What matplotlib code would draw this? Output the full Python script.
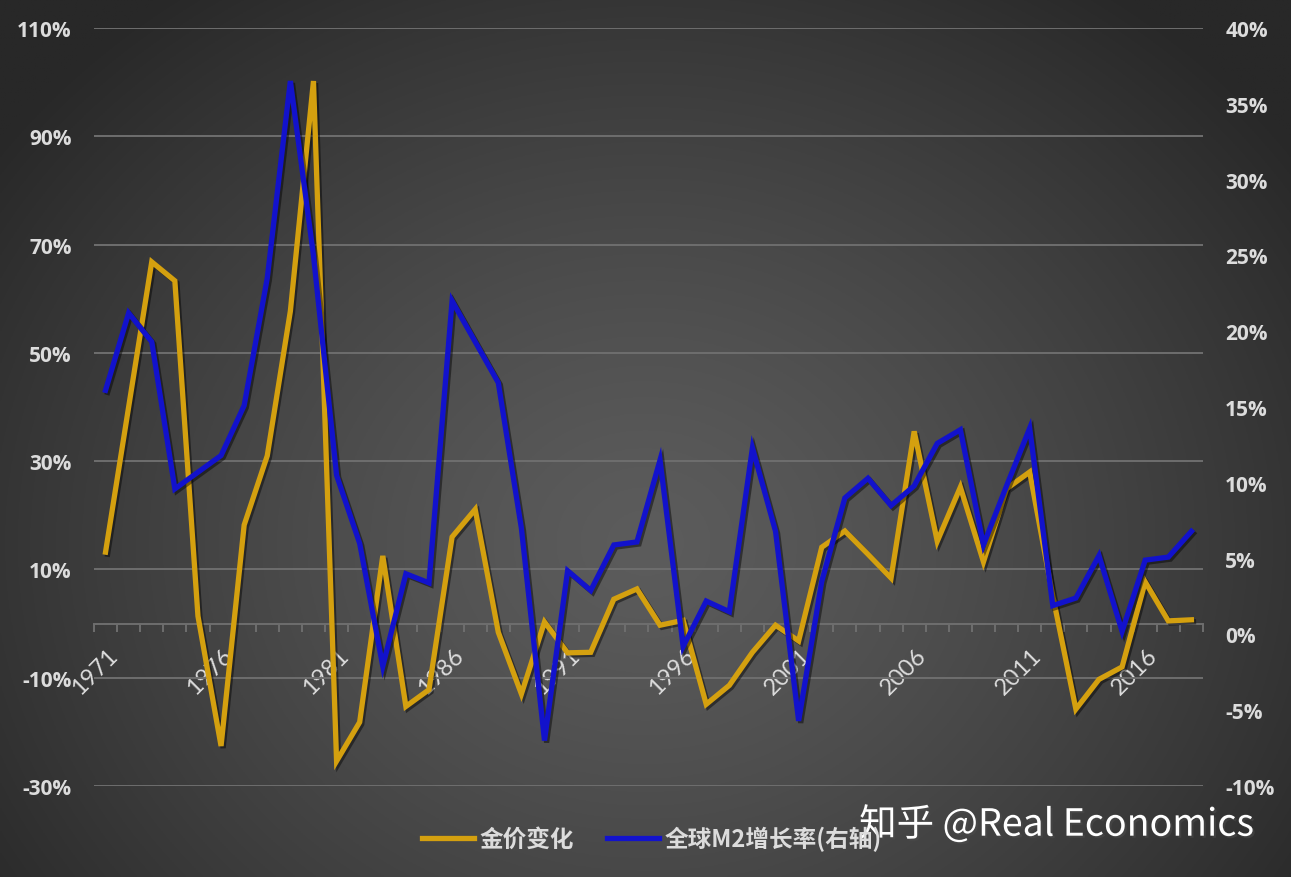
import numpy as np
import matplotlib
matplotlib.use("Agg")
import matplotlib.pyplot as plt
import matplotlib.patheffects as pe
from matplotlib.transforms import ScaledTranslation

plt.rcParams['font.family'] = ['Lato', 'Noto Sans CJK SC', 'DejaVu Sans']

# data, 1971-2018
years = list(range(1971, 2019))
gold_change = [13.2, 40.0, 66.8, 63.3, 1.4, -22.6, 18.2, 31.0, 57.7, 100.2,
               -25.4, -18.2, 12.5, -15.3, -12.2, 16.0, 21.1, -1.6, -13.0, 0.3,
               -5.4, -5.3, 4.5, 6.4, -0.3, 0.6, -14.9, -11.4, -5.3, -0.3,
               -3.2, 14.1, 17.1, 12.8, 8.4, 35.5, 15.2, 25.2, 11.4, 24.9,
               28.0, 5.1, -15.8, -10.3, -8.0, 7.7, 0.5, 0.7]
m2_growth = [16.1, 21.2, 19.3, 9.6, 10.7, 11.8, 15.1, 23.5, 36.5, 25.0,
             10.5, 6.0, -2.1, 4.0, 3.4, 22.0, 19.3, 16.6, 7.0, -7.0,
             4.2, 2.9, 5.9, 6.1, 11.5, -0.8, 2.2, 1.5, 12.3, 6.8,
             -5.7, 3.5, 9.0, 10.3, 8.5, 9.8, 12.6, 13.5, 5.9, 9.8,
             13.6, 1.9, 2.4, 5.2, 0.2, 4.9, 5.1, 6.8]
left_ticks = [-30, -10, 10, 30, 50, 70, 90, 110]
right_ticks = [-10, -5, 0, 5, 10, 15, 20, 25, 30, 35, 40]
legend_labels = ['金价变化', '全球M2增长率(右轴)']

gold = '#d4a00f'
blue = '#1212cc'
txt = '#dcdcdc'
grid = '#6e6e6e'
ylab_font = {'family': ['Open Sans', 'DejaVu Sans'], 'weight': 'bold', 'size': 15}

fig = plt.figure(figsize=(12.91, 8.78), dpi=100)

# radial gradient background
bg = fig.add_axes([0, 0, 1, 1], zorder=-10)
yy, xx = np.mgrid[0:1:400j, 0:1:600j]
r = np.sqrt(((xx - 0.5) / 0.62) ** 2 + ((yy - 0.62) / 0.78) ** 2)
shade = 0x5c - (0x5c - 0x28) * np.clip(r, 0, 1) ** 1.3
img = np.dstack([shade, shade, shade]) / 255.0
bg.imshow(img, extent=[0, 1, 0, 1], origin='upper', aspect='auto')
bg.axis('off')

ax = fig.add_axes([0.0728, 0.1036, 0.8590, 0.8634])
ax.set_facecolor('none')
x = np.arange(len(years))

shadow = [pe.SimpleLineShadow(offset=(1.5, -1.5), shadow_color='black', alpha=0.45), pe.Normal()]

ax.plot(x, gold_change, color=gold, lw=3.8, solid_joinstyle='miter',
        path_effects=shadow, label=legend_labels[0], zorder=3)
ax.set_ylim(-30, 110)
ax.set_xlim(-0.5, len(years) - 0.5)
ax.set_yticks(left_ticks)
ax.set_yticklabels([f'{t}%' for t in left_ticks], fontdict=ylab_font, color=txt)
ax.tick_params(axis='y', length=0, pad=16)
ax.grid(axis='y', color=grid, lw=1.4)
ax.set_axisbelow(True)

for s in ['top', 'right', 'left']:
    ax.spines[s].set_visible(False)
ax.spines['bottom'].set_position(('data', 0))
ax.spines['bottom'].set_color(grid)
ax.spines['bottom'].set_linewidth(1.4)

lab_idx = [i for i, yv in enumerate(years) if (yv - 1971) % 5 == 0]
ax.set_xticks(lab_idx)
ax.set_xticklabels([str(years[i]) for i in lab_idx], rotation=45, ha='right', va='top',
                   rotation_mode='anchor', fontsize=17, color=txt)
ax.set_xticks(np.arange(-0.5, len(years), 1), minor=True)
ax.tick_params(axis='x', which='major', length=0, pad=15)
ax.tick_params(axis='x', which='minor', length=6, color=grid, width=1.4, direction='out')
off = ScaledTranslation(1 / 100, 0, fig.dpi_scale_trans)
for t in ax.get_xticklabels():
    t.set_transform(t.get_transform() + off)

ax2 = ax.twinx()
ax2.plot(x, m2_growth, color=blue, lw=3.8, solid_joinstyle='miter',
         path_effects=shadow, label=legend_labels[1], zorder=3)
ax2.set_ylim(-10, 40)
ax2.set_yticks(right_ticks)
ax2.set_yticklabels([f'{t}%' for t in right_ticks], fontdict=ylab_font, color=txt)
ax2.tick_params(axis='y', length=0, pad=16)
for s in ax2.spines.values():
    s.set_visible(False)

h1, l1 = ax.get_legend_handles_labels()
h2, l2 = ax2.get_legend_handles_labels()
leg = fig.legend(h1 + h2, l1 + l2, loc='center', bbox_to_anchor=(0.505, 0.044), ncol=2,
                 frameon=False, handlelength=2.2, handletextpad=0.25, columnspacing=1.4,
                 prop={'family': ['Noto Sans CJK SC', 'DejaVu Sans'], 'weight': 'bold', 'size': 17})
for t in leg.get_texts():
    t.set_color(txt)
for ln in leg.get_lines():
    ln.set_path_effects([])

fig.text(0.972, 0.059, '知乎 @Real Economics', ha='right', va='center', color='white',
         fontsize=27, family=['Noto Sans CJK SC', 'DejaVu Sans'],
         path_effects=[pe.withSimplePatchShadow(offset=(1.5, -1.5), alpha=0.5)])

fig.savefig('out.png', dpi=100)
